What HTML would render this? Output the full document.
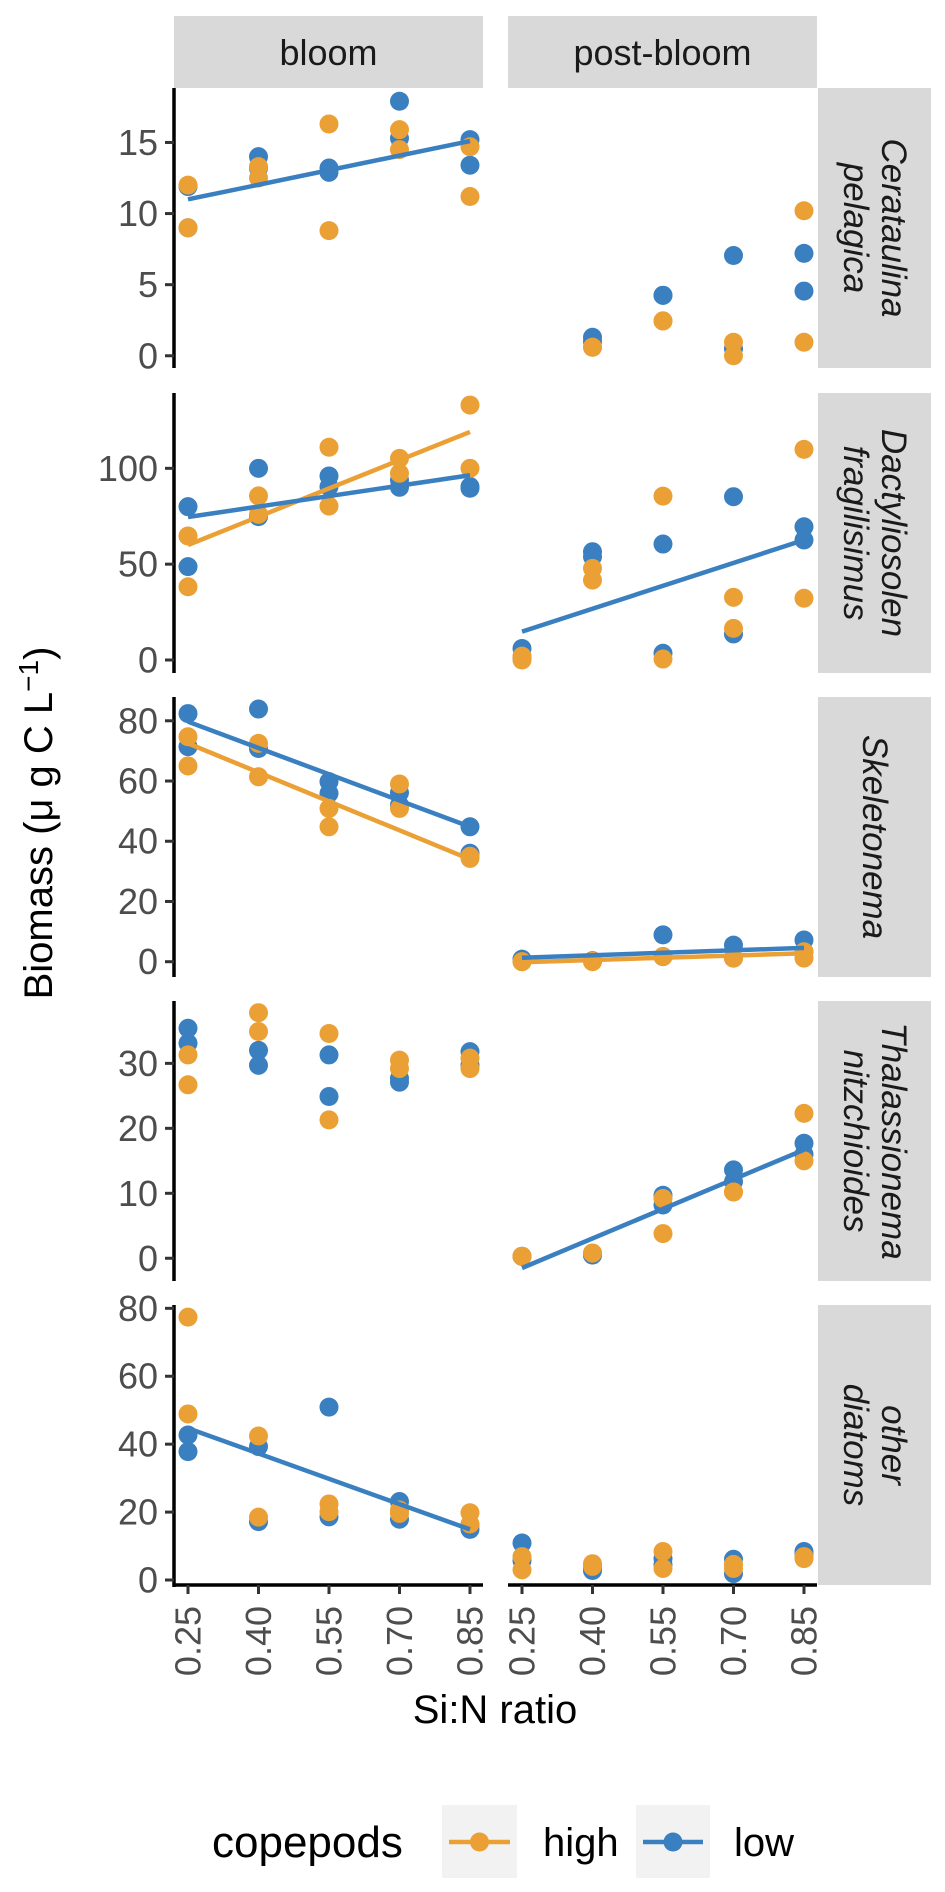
<!DOCTYPE html>
<html><head><meta charset="utf-8"><style>
html,body{margin:0;padding:0;background:#fff}
svg{display:block;font-family:"Liberation Sans",sans-serif}
</style></head><body>
<svg id="chart" width="945" height="1892" viewBox="0 0 945 1892" xmlns="http://www.w3.org/2000/svg"></svg>
<script>
// ---- data ----
const xTicks = [0.25, 0.40, 0.55, 0.70, 0.85];
const xTickLabels = ["0.25","0.40","0.55","0.70","0.85"];
const facetCols = ["bloom","post-bloom"];
const speciesRows = [["Cerataulina","pelagica"],["Dactyliosolen","fragilisimus"],["Skeletonema"],["Thalassionema","nitzchioides"],["other","diatoms"]];
const yTickValues = [[0,5,10,15],[0,50,100],[0,20,40,60,80],[0,10,20,30],[0,20,40,60,80]];
const yDomains = [[-0.86,18.83],[-6.78,139.3],[-5.08,87.9],[-3.5,39.6],[-1.47,80.98]];
const siN = [0.25,0.25,0.40,0.40,0.55,0.55,0.70,0.70,0.85,0.85];
// bloom high / low per row
const bloomHigh = [
 [12.0,9.0,13.3,12.5,16.3,8.8,15.9,14.5,14.7,11.2],
 [64.7,38.2,85.6,76,111,80.3,105.2,97.4,133,100],
 [74.7,65.0,72.5,61.4,50.9,44.8,59,50.9,35,34.3],
 [31.3,26.7,37.8,34.9,34.6,21.3,30.5,29.2,30.8,29.2],
 [77.4,48.9,42.4,18.5,22.4,20.1,20.6,19.6,19.8,16.5]];
const bloomLow = [
 [9.0,11.9,14.0,13.2,13.2,12.9,17.9,15.3,15.2,13.4],
 [80.0,48.7,100,74.8,96,90.4,93.9,90.1,89.6,90.5],
 [82.4,71.4,83.9,70.8,59.8,55.9,56.1,52,44.8,36],
 [35.4,33.1,32,29.7,31.3,24.9,27.7,27.1,31.8,29.7],
 [42.7,37.8,39.3,17.2,50.9,18.6,23.1,17.9,16.2,14.9]];
const postHigh = [
 [null,null,0.6,0.6,2.45,2.45,0.95,0.0,10.2,0.95],
 [2,0,47.8,41.7,85.5,0.5,32.7,16.5,109.9,32.2],
 [0,0,0.2,0,1.7,1.7,1.2,1.2,3.3,1.2],
 [0.3,0.3,0.8,0.8,9.2,3.8,10.2,10.2,22.3,15.0],
 [6.9,3.0,4.8,4.0,8.4,3.4,4.6,3.4,6.9,6.3]];
const postLow = [
 [null,null,1.3,1.0,4.25,4.25,7.05,0.5,7.2,4.55],
 [6,1,56.5,53.9,60.5,3.5,85.2,13.6,69.5,62.6],
 [0.8,0.8,0.3,0.3,8.9,1.7,5.5,1.2,7.2,3.3],
 [0.3,0.3,0.5,0.5,9.7,8.2,13.6,11.8,17.7,16],
 [10.9,5.7,2.8,3.4,6.3,4.5,6.1,1.9,8.4,7.5]];
// fitted trend line endpoints [value at 0.25, value at 0.85]; null = no line
const fitBloomHigh = [null,[60,119],[72.5,34],null,null];
const fitBloomLow = [[11.0,15.1],[74.6,96.4],[79.7,44.8],null,[44.7,14.9]];
const fitPostHigh = [null,null,[-0.2,2.8],null,null];
const fitPostLow = [null,[14.8,62.6],[1.3,4.6],[-1.5,16.7],null];

// ---- layout ----
const NS="http://www.w3.org/2000/svg";
const svg=document.getElementById('chart');
const ORANGE="#EBA035", BLUE="#3A7FC0";
const colLeft=[174,508], panelW=309, rowTop=[88,393,697,1001,1305], panelH=280;
const xDom=[0.2202,0.8777];
function el(t,a,p){const e=document.createElementNS(NS,t);for(const k in a)e.setAttribute(k,a[k]);(p||svg).appendChild(e);return e;}
function xs(c,v){return colLeft[c]+(v-xDom[0])/(xDom[1]-xDom[0])*panelW;}
function ys(r,v){const d=yDomains[r];return rowTop[r]+panelH-(v-d[0])/(d[1]-d[0])*panelH;}

// top strips
facetCols.forEach((n,c)=>{
  const r=el('rect',{x:colLeft[c],y:16,width:panelW,height:72,fill:'#D9D9D9'});
  
  
  const t=el('text',{x:colLeft[c]+panelW/2,y:65,'text-anchor':'middle','font-size':36,fill:'#1a1a1a'});
  t.textContent=n;
  
  
});
// right strips
speciesRows.forEach((lines,r)=>{
  const rc=el('rect',{x:818,y:rowTop[r],width:113,height:panelH,fill:'#D9D9D9'});
  
  
  const cx=874.5, cy=rowTop[r]+panelH/2;
  const g=el('g',{transform:`translate(${cx},${cy}) rotate(90)`});
  lines.forEach((ln,i)=>{
    const off=lines.length===1?0:(i===0?-19:19);
    const t=el('text',{x:0,y:off,'text-anchor':'middle','dominant-baseline':'central','font-size':35,'font-style':'italic',fill:'#1a1a1a'},g);
    t.textContent=ln;
    
    
  });
});
// y axes
speciesRows.forEach((_,r)=>{
  const ax=el('line',{x1:174,x2:174,y1:rowTop[r],y2:rowTop[r]+panelH+(r===4?2:0),stroke:'#000','stroke-width':3.5});
  
  
  yTickValues[r].forEach(v=>{
    const y=ys(r,v);
    const tk=el('line',{x1:165,x2:174,y1:y,y2:y,stroke:'#333','stroke-width':3});
    
    
    const t=el('text',{x:158,y:y+12.5,'text-anchor':'end','font-size':36,fill:'#4D4D4D'});
    t.textContent=v;
    
    
  });
});
// x axes
[0,1].forEach(c=>{
  const ax=el('line',{x1:colLeft[c],x2:colLeft[c]+panelW,y1:1585,y2:1585,stroke:'#000','stroke-width':3.5});
  
  
  xTicks.forEach((v,i)=>{
    const x=xs(c,v);
    const tk=el('line',{x1:x,x2:x,y1:1585,y2:1594,stroke:'#333','stroke-width':3});
    
    
    const t=el('text',{x:0,y:0,'text-anchor':'end','font-size':36,fill:'#4D4D4D',transform:`translate(${x+12.5},1606) rotate(-90)`});
    t.textContent=xTickLabels[i];
    
    
  });
});
// points
function drawPts(c,r,vals,col,nm){
  vals.forEach((v,i)=>{
    if(v===null)return;
    const p=el('circle',{cx:xs(c,siN[i]),cy:ys(r,v),r:9.5,fill:col});
    
    
  });
}
function drawFit(c,r,f,col,nm){
  if(!f)return;
  const l=el('line',{x1:xs(c,0.25),y1:ys(r,f[0]),x2:xs(c,0.85),y2:ys(r,f[1]),stroke:col,'stroke-width':4.5});
  
  
}
speciesRows.forEach((_,r)=>{
  drawPts(0,r,bloomLow[r],BLUE,'point-low');
  drawPts(0,r,bloomHigh[r],ORANGE,'point-high');
  drawPts(1,r,postLow[r],BLUE,'point-low');
  drawPts(1,r,postHigh[r],ORANGE,'point-high');
  drawFit(0,r,fitBloomHigh[r],ORANGE,'trend-high');
  drawFit(0,r,fitBloomLow[r],BLUE,'trend-low');
  drawFit(1,r,fitPostHigh[r],ORANGE,'trend-high');
  drawFit(1,r,fitPostLow[r],BLUE,'trend-low');
});
</script>
<svg style="position:absolute;left:0;top:0" width="945" height="1892">
  <text x="495" y="1723" text-anchor="middle" font-size="40" fill="#000" font-family="Liberation Sans, sans-serif">Si:N ratio</text>
  <text transform="translate(52,823) rotate(-90)" text-anchor="middle" font-size="40" fill="#000" font-family="Liberation Sans, sans-serif">Biomass (μ g C L<tspan dy="-14" font-size="28">−1</tspan><tspan dy="14">)</tspan></text>
  <text x="212" y="1857" font-size="44" fill="#000" font-family="Liberation Sans, sans-serif">copepods</text>
  <g>
    <rect x="442" y="1805" width="75" height="73" fill="#F2F2F2"/>
    <line x1="449" x2="510" y1="1842" y2="1842" stroke="#EBA035" stroke-width="4.5"/>
    <circle cx="479.5" cy="1842" r="9.5" fill="#EBA035"/>
    <text x="543" y="1856" font-size="40" fill="#000" font-family="Liberation Sans, sans-serif">high</text>
  </g>
  <g>
    <rect x="636" y="1805" width="74" height="73" fill="#F2F2F2"/>
    <line x1="643" x2="703" y1="1842" y2="1842" stroke="#3A7FC0" stroke-width="4.5"/>
    <circle cx="673" cy="1842" r="9.5" fill="#3A7FC0"/>
    <text x="734" y="1856" font-size="40" fill="#000" font-family="Liberation Sans, sans-serif">low</text>
  </g>
</svg>
</body></html>
